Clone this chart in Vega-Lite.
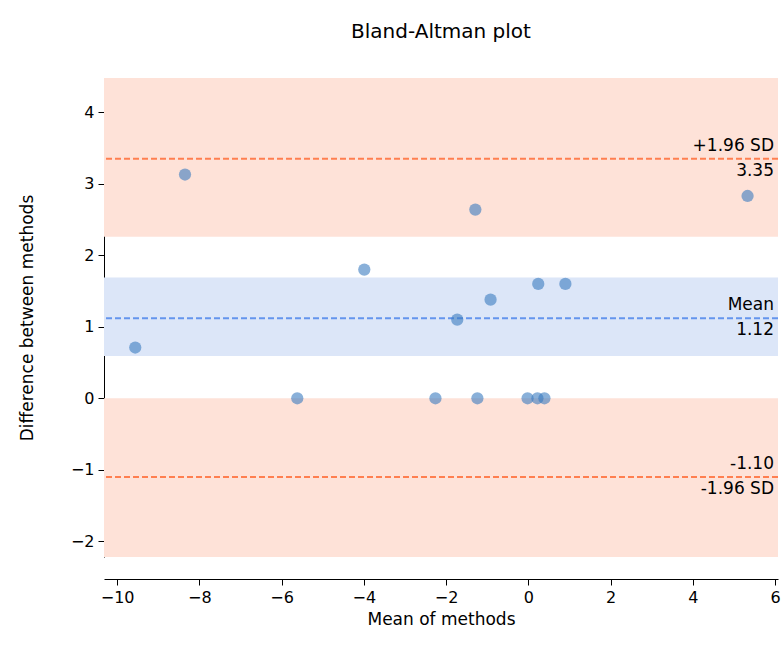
{
  "$schema": "https://vega.github.io/schema/vega-lite/v6.json",
  "width": 674,
  "height": 479,
  "autosize": "none",
  "padding": {"left": 104, "top": 78, "right": 6, "bottom": 99},
  "background": "white",
  "title": {"text": "Bland-Altman plot", "fontSize": 20, "font": "DejaVu Sans", "fontWeight": "normal", "offset": 36},
  "config": {
    "view": {"stroke": null},
    "axis": {"labelFont": "DejaVu Sans", "titleFont": "DejaVu Sans", "labelFontSize": 16, "titleFontSize": 17, "titleFontWeight": "normal", "grid": false, "domainColor": "black", "tickColor": "black", "labelColor": "black", "titleColor": "black", "tickSize": 6, "labelPadding": 4}
  },
  "layer": [
    {
      "data": {"values": [
        {"lo": 2.26, "hi": 4.48, "band": "sd"},
        {"lo": -2.22, "hi": 0, "band": "sd"},
        {"lo": 0.59, "hi": 1.69, "band": "mean"}
      ]},
      "mark": {"type": "rect"},
      "encoding": {
        "y": {"field": "lo", "type": "quantitative", "scale": {"domain": [-2.22, 4.48], "nice": false, "zero": false}, "axis": {"values": [-2, -1, 0, 1, 2, 3, 4], "format": "d", "title": "Difference between methods", "titlePadding": 34}},
        "y2": {"field": "hi"},
        "color": {"field": "band", "type": "nominal", "scale": {"domain": ["sd", "mean"], "range": ["#fee2d8", "#dce6f8"]}, "legend": null}
      }
    },
    {
      "data": {"values": [
        {"v": 3.35, "kind": "sd"},
        {"v": -1.10, "kind": "sd"},
        {"v": 1.12, "kind": "mean"}
      ]},
      "mark": {"type": "rule", "strokeDash": [6, 3], "strokeWidth": 2},
      "encoding": {
        "y": {"field": "v", "type": "quantitative"},
        "stroke": {"field": "kind", "type": "nominal", "scale": {"domain": ["sd", "mean"], "range": ["#ff7f50", "#6495ed"]}, "legend": null}
      }
    },
    {
      "data": {"values": [
        {"x": -9.56, "y": 0.71}, {"x": -8.35, "y": 3.13}, {"x": -5.62, "y": 0},
        {"x": -3.99, "y": 1.80}, {"x": -2.26, "y": 0}, {"x": -1.73, "y": 1.10},
        {"x": -1.29, "y": 2.64}, {"x": -1.24, "y": 0}, {"x": -0.92, "y": 1.38},
        {"x": -0.02, "y": 0}, {"x": 0.24, "y": 1.60}, {"x": 0.22, "y": 0},
        {"x": 0.39, "y": 0}, {"x": 0.90, "y": 1.60}, {"x": 5.33, "y": 2.83}
      ]},
      "mark": {"type": "circle", "size": 150, "color": "#3a7cc0", "opacity": 0.6},
      "encoding": {
        "x": {"field": "x", "type": "quantitative", "scale": {"domain": [-10.32, 6.07], "nice": false, "zero": false}, "axis": {"values": [-10, -8, -6, -4, -2, 0, 2, 4, 6], "format": "d", "title": "Mean of methods", "offset": 22, "titlePadding": 6}},
        "y": {"field": "y", "type": "quantitative"}
      }
    },
    {
      "data": {"values": [
        {"y": 3.35, "t": "+1.96 SD"},
        {"y": 1.12, "t": "Mean"},
        {"y": -1.10, "t": "-1.10"}
      ]},
      "mark": {"type": "text", "align": "right", "baseline": "bottom", "dy": -4, "fontSize": 17, "font": "DejaVu Sans", "color": "black", "x": {"expr": "width - 4"}},
      "encoding": {
        "y": {"field": "y", "type": "quantitative"},
        "text": {"field": "t"}
      }
    },
    {
      "data": {"values": [
        {"y": 3.35, "t": "3.35"},
        {"y": 1.12, "t": "1.12"},
        {"y": -1.10, "t": "-1.96 SD"}
      ]},
      "mark": {"type": "text", "align": "right", "baseline": "top", "dy": 4, "fontSize": 17, "font": "DejaVu Sans", "color": "black", "x": {"expr": "width - 4"}},
      "encoding": {
        "y": {"field": "y", "type": "quantitative"},
        "text": {"field": "t"}
      }
    }
  ]
}
